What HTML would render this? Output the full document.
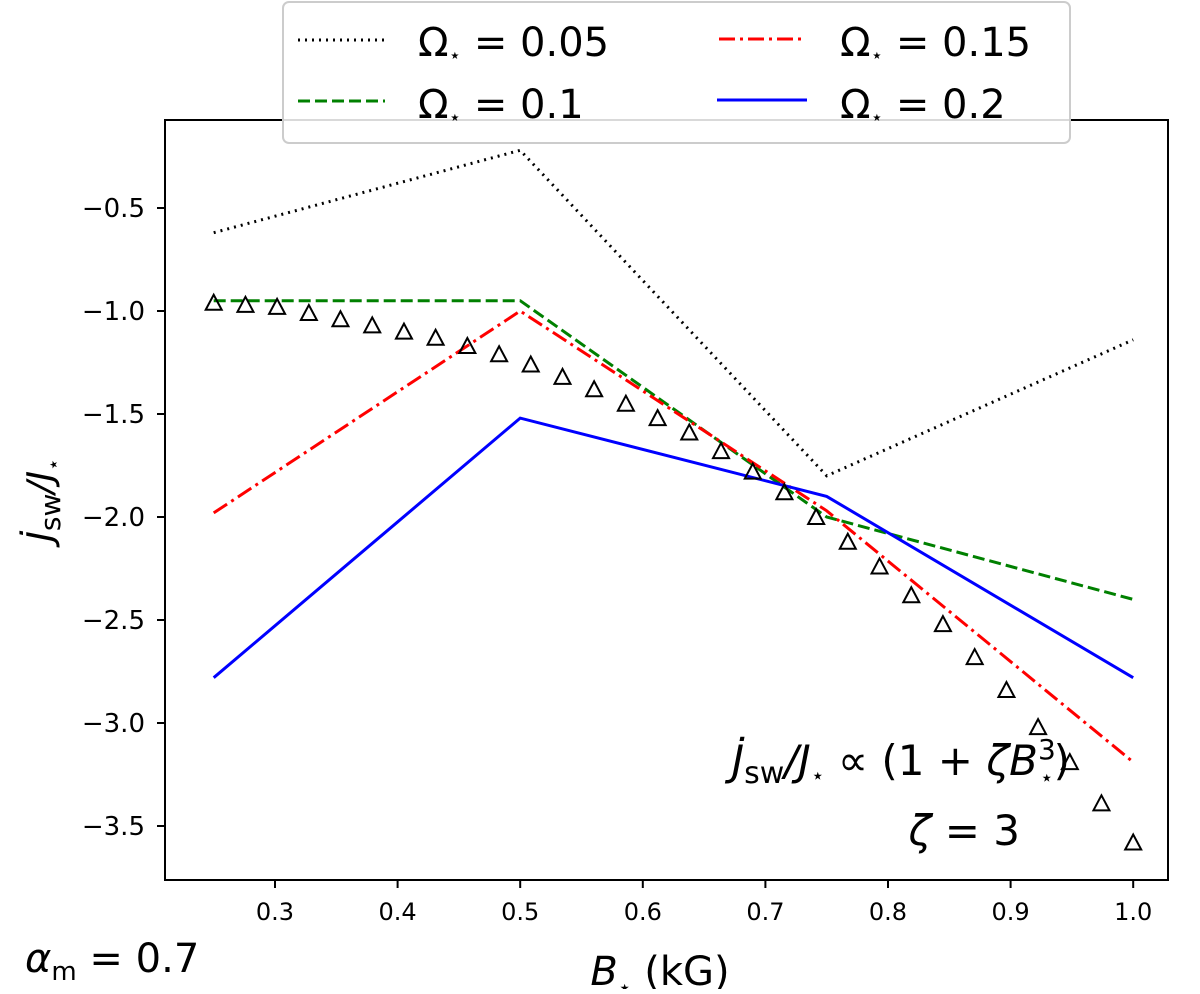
<!DOCTYPE html>
<html><head><meta charset="utf-8"><style>
body{margin:0;background:#fff;}
svg text{font-family:"DejaVu Sans","Liberation Sans",sans-serif;fill:#000;}
</style></head><body>
<svg id="chart" width="1200" height="989" xmlns="http://www.w3.org/2000/svg">
<g id="plot"></g>
<rect x="165" y="120" width="1003" height="760" fill="none" stroke="#000" stroke-width="2"/>
<g id="ticks"></g>
<text transform="translate(52,500) rotate(-90)" font-size="36" text-anchor="middle" font-style="italic">J̇<tspan font-style="normal" font-size="28" dy="8">sw</tspan><tspan dy="-8">/J</tspan><tspan font-size="20" dy="8">⋆</tspan></text>
<text x="660" y="985" font-size="40" text-anchor="middle"><tspan font-style="italic">B</tspan><tspan font-size="22" dy="10">⋆</tspan><tspan dy="-10"> (kG)</tspan></text>
<text x="25" y="972" font-size="40"><tspan font-style="italic">α</tspan><tspan font-size="26" dy="8">m</tspan><tspan dy="-8"> = 0.7</tspan></text>
<text x="1070" y="775" font-size="42" text-anchor="end"><tspan font-style="italic">J̇</tspan><tspan font-size="30" dy="8">sw</tspan><tspan dy="-8" font-style="italic">/J</tspan><tspan font-size="22" dy="8">⋆</tspan><tspan dy="-8"> ∝ (1 + </tspan><tspan font-style="italic">ζB</tspan><tspan font-size="28" dy="-16">3</tspan><tspan font-size="22" dx="-16" dy="26">⋆</tspan><tspan dy="-10">)</tspan></text>
<text x="1020" y="845" font-size="42" text-anchor="end"><tspan font-style="italic">ζ</tspan> = 3</text>
<g>
<rect x="283" y="2" width="787" height="141" rx="6" fill="#fff" fill-opacity="0.85" stroke="#ccc" stroke-width="2"/>
<line x1="298" y1="40" x2="385" y2="40" stroke="#000" stroke-width="3" stroke-dasharray="2,5"/>
<text x="418" y="56" font-size="40">Ω<tspan font-size="20" dy="6">⋆</tspan><tspan dy="-6"> = 0.05</tspan></text>
<line x1="298" y1="101" x2="385" y2="101" stroke="green" stroke-width="3" stroke-dasharray="12,5"/>
<text x="418" y="118" font-size="40">Ω<tspan font-size="20" dy="6">⋆</tspan><tspan dy="-6"> = 0.1</tspan></text>
<line x1="719" y1="39" x2="804" y2="39" stroke="red" stroke-width="3" stroke-dasharray="16,5,3,5"/>
<text x="840" y="56" font-size="40">Ω<tspan font-size="20" dy="6">⋆</tspan><tspan dy="-6"> = 0.15</tspan></text>
<line x1="717" y1="100" x2="807" y2="100" stroke="blue" stroke-width="3"/>
<text x="840" y="118" font-size="40">Ω<tspan font-size="20" dy="6">⋆</tspan><tspan dy="-6"> = 0.2</tspan></text>
</g>
</svg>
<script>
const xLine = [0.25, 0.5, 0.75, 1.0];
const omega005 = [-0.62, -0.22, -1.80, -1.14];
const omega01 = [-0.95, -0.95, -2.00, -2.40];
const omega015 = [-1.98, -1.00, -1.97, -3.19];
const omega02 = [-2.78, -1.52, -1.90, -2.78];
const triX = [0.25,0.2759,0.3017,0.3276,0.3534,0.3793,0.4052,0.431,0.4569,0.4828,0.5086,0.5345,0.5603,0.5862,0.6121,0.6379,0.6638,0.6897,0.7155,0.7414,0.7672,0.7931,0.819,0.8448,0.8707,0.8966,0.9224,0.9483,0.9741,1.0];
const triY = [-0.96,-0.97,-0.98,-1.01,-1.04,-1.07,-1.10,-1.13,-1.17,-1.21,-1.26,-1.32,-1.38,-1.45,-1.52,-1.59,-1.68,-1.78,-1.88,-2.00,-2.12,-2.24,-2.38,-2.52,-2.68,-2.84,-3.02,-3.19,-3.39,-3.58];
const xTicks = [0.3,0.4,0.5,0.6,0.7,0.8,0.9,1.0];
const xTickLabels = ["0.3","0.4","0.5","0.6","0.7","0.8","0.9","1.0"];
const yTicks = [-0.5,-1.0,-1.5,-2.0,-2.5,-3.0,-3.5];
const yTickLabels = ["−0.5","−1.0","−1.5","−2.0","−2.5","−3.0","−3.5"];

const NS = "http://www.w3.org/2000/svg";
function sx(v){return 275 + (v-0.3)*1226;}
function sy(v){return 517 + (-2-v)*206;}
const plot = document.getElementById('plot');
const ticks = document.getElementById('ticks');
function mk(tag, attrs, parent){const e=document.createElementNS(NS,tag);for(const k in attrs)e.setAttribute(k,attrs[k]);parent.appendChild(e);return e;}

const series = [
 {ys:omega005,color:'#000',dash:'2,5',name:'line-omega-0.05'},
 {ys:omega01,color:'green',dash:'12,5',name:'line-omega-0.1'},
 {ys:omega015,color:'red',dash:'16,5,3,5',name:'line-omega-0.15'},
 {ys:omega02,color:'blue',dash:'',name:'line-omega-0.2'}
];
series.forEach(s=>{
  const pts = xLine.map((x,i)=>sx(x).toFixed(1)+','+sy(s.ys[i]).toFixed(1)).join(' ');
  const p = mk('polyline',{points:pts,fill:'none',stroke:s.color,'stroke-width':3,'stroke-dasharray':s.dash},plot);
  
  
});
triX.forEach((x,i)=>{
  const cx=sx(x), cy=sy(triY[i]);
  const t = mk('polygon',{points:`${cx},${cy-8} ${cx-8},${cy+7} ${cx+8},${cy+7}`,fill:'none',stroke:'#000','stroke-width':2},plot);
  
  
});
xTicks.forEach((v,i)=>{
  const x=sx(v);
  const l = mk('line',{x1:x,y1:880,x2:x,y2:888,stroke:'#000','stroke-width':2},ticks);
  
  
  const t = mk('text',{x:x,y:920,'font-size':24,'text-anchor':'middle'},ticks);
  t.textContent = xTickLabels[i];
  
  
});
yTicks.forEach((v,i)=>{
  const y=sy(v);
  const l = mk('line',{x1:157,y1:y,x2:165,y2:y,stroke:'#000','stroke-width':2},ticks);
  
  
  const t = mk('text',{x:145,y:y+9,'font-size':26,'text-anchor':'end'},ticks);
  t.textContent = yTickLabels[i];
  
  
});
</script>
</body></html>
